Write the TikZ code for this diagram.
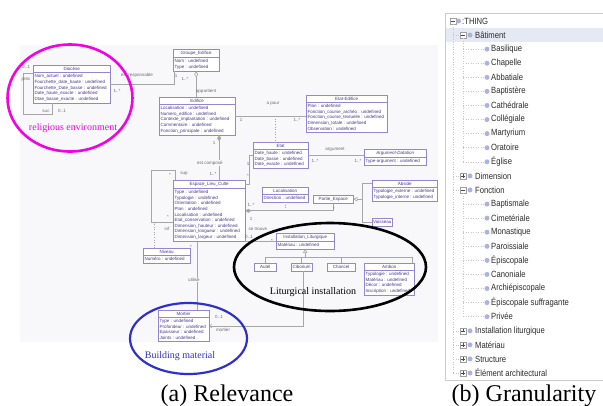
\documentclass[tikz,border=0pt]{standalone}
\usepackage{fontspec}
\setmainfont{Liberation Serif}
\setsansfont{Liberation Sans}
\newfontfamily\treefont[FakeStretch=0.85]{Liberation Sans}
\usetikzlibrary{shapes.multipart,arrows.meta,calc}

\definecolor{umlline}{HTML}{9288CF}
\definecolor{umltext}{HTML}{43378A}
\definecolor{linegray}{HTML}{A6A6A6}
\definecolor{labtext}{HTML}{6A6A6A}
\definecolor{panel}{HTML}{F8F8FB}
\definecolor{treedot}{HTML}{A9B3DD}
\definecolor{treesel}{HTML}{E4E9F3}
\definecolor{treetext}{HTML}{2B2B2B}
\definecolor{envmag}{HTML}{F200E6}
\definecolor{matblue}{HTML}{2F2FCC}

\begin{document}
\begin{tikzpicture}[x=1pt,y=-1pt,
  cls/.style={rectangle split,rectangle split parts=2,draw=umlline,fill=white,
    text=umltext,font=\sffamily\fontsize{4.5}{5.6}\selectfont,align=left,
    rectangle split part align={center,left},inner xsep=1.5pt,inner ysep=1.8pt,
    anchor=north west,minimum width=#1},
  box/.style={draw=umlline,fill=white,text=umltext,font=\sffamily\fontsize{4.5}{5.6}\selectfont,
    inner sep=1pt,anchor=north west,minimum width=#1,minimum height=8pt},
  link/.style={draw=linegray,line width=0.6pt},
  aggr/.style={{Diamond[open,length=6pt,width=4pt]}-},
  comp/.style={{Diamond[length=6pt,width=4pt]}-},
  inh/.style={-{Triangle[open,length=4pt,width=4.5pt]}},
  nav/.style={-{Straight Barb[length=2pt,width=4pt]}},
  lbl/.style={font=\sffamily\fontsize{4.5}{5}\selectfont,text=labtext,inner sep=0.5pt},
  note/.style={font=\rmfamily\fontsize{10}{12}\selectfont,inner sep=0},
  tlabel/.style={anchor=west,inner sep=0,font=\treefont\fontsize{9}{10}\selectfont,text=treetext},
  tdot/.style={circle,fill=treedot,inner sep=0,minimum size=5pt},
  tguide/.style={draw=gray!45,dotted,line width=0.5pt},
  tminus/.style={draw=gray!75,fill=white,minimum size=6pt,inner sep=0,
    path picture={\draw[black!70] ([xshift=1.3pt]path picture bounding box.west) -- ([xshift=-1.3pt]path picture bounding box.east);}},
  tplus/.style={draw=gray!75,fill=white,minimum size=6pt,inner sep=0,
    path picture={\draw[black!70] ([xshift=1.3pt]path picture bounding box.west) -- ([xshift=-1.3pt]path picture bounding box.east)
      ([yshift=-1.3pt]path picture bounding box.north) -- ([yshift=1.3pt]path picture bounding box.south);}},
  caption/.style={anchor=base,font=\rmfamily\fontsize{24}{26}\selectfont,inner sep=0}]
  \useasboundingbox (0,0) rectangle (603,405);
  \fill[panel] (20,45) rectangle (438,342);

  \node[cls=77pt] (diocese) at (33,65) {Diocèse \nodepart{second} Nom\_actuel : undefined\\Fourchette\_date\_haute : undefined\\Fourchette\_Date\_basse : undefined\\Date\_haute\_exacte : undefined\\Dtae\_basse\_exacte : undefined};
  \node[cls=46pt] (groupe) at (173,49) {Groupe\_Edifice \nodepart{second} Nom : undefined\\Type : undefined};
  \node[cls=76pt] (edifice) at (159,97) {Edifice \nodepart{second} Localisation : undefined\\Numero\_edifice : undefined\\Contexte\_implantation : undefined\\Commentaire : undefined\\Fonction\_principale : undefined};
  \node[cls=81pt] (etatedif) at (306,95) {Etat-Edifice \nodepart{second} Plan : undefined\\Fonction\_course\_archéo : undefined\\Fonction\_course\_textuelle : undefined\\Dimension\_totale : undefined\\Observation : undefined};
  \node[cls=55pt] (etat) at (253,142) {Etat \nodepart{second} Date\_haute : undefined\\Date\_basse : undefined\\Date\_exacte : undefined};
  \node[cls=62pt] (argdat) at (364,149) {\textit{Argument-Datation} \nodepart{second} Type-argument : undefined};
  \node[cls=72pt] (espace) at (173,180) {Espace\_Lieu\_Culte \nodepart{second} Type : undefined\\Typologie : undefined\\Orientation : undefined\\Plan : undefined\\Localisation : undefined\\Etat\_conservation : undefined\\Dimension\_hauteur : undefined\\Dimension\_longueur : undefined\\Dimension\_largeur : undefined};
  \node[cls=47pt] (niveau) at (143,248) {Niveau \nodepart{second} Numéro : undefined};
  \node[cls=46pt] (loc) at (262,187) {Localisation \nodepart{second} Direction : undefined};
  \node[box=40pt] (partie) at (313,195) {Partie\_Espace};
  \node[cls=65pt] (abside) at (372,180) {Abside \nodepart{second} Typologie\_externe : undefined\\Typologie\_interne : undefined};
  \node[box=20pt] (vaisseau) at (372,218) {Vaisseau};
  \node[cls=58pt] (inst) at (276,233) {Installation\_Liturgique \nodepart{second} Matériau : undefined};
  \node[box=22pt] (autel) at (254,263) {Autel};
  \node[box=21pt] (cib) at (291,263) {Ciborium};
  \node[box=28pt] (chancel) at (327,263) {Chancel};
  \node[cls=50pt] (ambon) at (364,263) {Ambon \nodepart{second} Typologie : undefined\\Matériau : undefined\\Décor : undefined\\Inscription : undefined};
  \node[cls=51pt] (mortier) at (158,310) {Mortier \nodepart{second} Type : undefined\\Profondeur : undefined\\Epaisseur : undefined\\Joints : undefined};

  \draw[link] ([yshift=-8pt]diocese.north west) -- ++(-10,0) -- ++(0,41) -| ([xshift=19pt]diocese.south west);
  \draw[link] (diocese.east) -| ([xshift=1pt]groupe.south west);
  \draw[link,aggr] (groupe.south) -- (groupe.south |- edifice.north);
  \draw[link] (edifice.east) -- (edifice.east -| etatedif.west);
  \path (edifice.east) -- (edifice.east -| etatedif.west) coordinate[pos=0.57] (apour);
  \draw[link,dotted] (apour) -- (apour |- etat.north);
  \draw[link] (etat.east) -- (etat.east -| argdat.west);
  \coordinate (cp) at ([xshift=22pt]edifice.south);
  \draw[link,comp] (cp) -- (cp |- espace.north);
  \draw[link] (etat.west) -- ++(-4,0) |- ([yshift=-4pt]espace.north east);
  \draw[link,comp] (espace.east) -| (partie.south);
  \draw[link,dotted] (loc.south) -- (loc.south |- espace.east);
  \coordinate (pj) at ([xshift=9pt]partie.east);
  \draw[link,inh] (pj) -- (partie.east);
  \draw[link] ([yshift=-3pt]abside.north west) -| (pj) |- (vaisseau.west);
  \draw[link] (espace.east |- inst.west) -- (inst.west);
  \coordinate (ib) at ([yshift=-8pt]inst.south);
  \coordinate (amb) at ([xshift=-2pt]ambon.north east);
  \draw[link,inh] (ib) -- (inst.south);
  \draw[link] (autel.north) |- (amb |- ib) -- (amb);
  \draw[link] (cib.north) -- (cib.north |- ib);
  \draw[link] (chancel.north) -- (chancel.north |- ib);
  \draw[link,nav] ([xshift=2pt]cib.south) |- (mortier.east);
  \coordinate (ut) at ([xshift=-12pt]espace.south);
  \draw[link] (ut) -- (ut |- mortier.north);
  \coordinate (lb) at ([yshift=-12pt]espace.west);
  \draw[link] ([xshift=2pt]espace.north west) -- ++(0,-10) -- ++(-24,0) |- (lb);
  \coordinate (nv) at ([xshift=-12pt]niveau.north);
  \draw[link,dotted] (nv) -- (nv |- lb);
  \fill[linegray] (nv |- lb) circle (0.9pt);

  \foreach \x/\y/\t [count=\i] in {26/67/0..1, 26/80/prec, 46/111/suc, 62/111/0..1,
      137/75/est responsable, 117/91/1..*, 176/76/1, 185/79/1..*, 206/91/appartient,
      273/104/a pour, 241/120/1, 297/120/1..*, 335/150/argument, 315/161/1..*, 358/161/1..*,
      214/143/1, 213/174/1..*, 248/164/1, 248/176/*, 251/205/1..*, 251/219/1, 334/209/*,
      258/229/se trouve, 249/237/0..1, 272/241/*, 170/175/*, 184/174/sup, 168/217/*,
      167/229/inf, 191/247/*, 219/317/0..1, 223/330/mortier}
    \node[lbl] (lab\i) at (\x,\y) {\t};
  \node[lbl,fill=panel] (labcomp) at (210,163) {est composé};
  \node[lbl,fill=panel] (labutil) at (194,280) {utilise};

  \draw[envmag,line width=2.6pt] (70,98) ellipse [x radius=62.5pt, y radius=53.5pt];
  \draw[black,line width=2.6pt] (330,267) ellipse [x radius=96pt, y radius=44pt];
  \draw[matblue,line width=2.2pt] (188.5,338.5) ellipse [x radius=58.5pt, y radius=35.5pt];
  \node[note,text=envmag] (relenv) at (73,128) {religious environment};
  \node[note] (liturg) at (313,292) {Liturgical installation};
  \node[note,text=matblue] (buildmat) at (180,356) {Building material};

  \draw[gray!40,line width=0.6pt] (603,13) -- (445,13) -- (445,380) -- (603,380);
  \fill[treesel] (446,28) rectangle (603,42);
  \node[tminus] (xthing) at (453,21) {};
  \node[tdot] (dthing) at (458.5,21) {};
  \node[tlabel] (thing) at (462,21) {:THING};
  \foreach \r in {1,12}
    \node[tminus] (x\r) at (463,{21+14.08*\r}) {};
  \foreach \r in {11,22,23,24,25}
    \node[tplus] (x\r) at (463,{21+14.08*\r}) {};
  \foreach \t/\r in {Bâtiment/1, Dimension/11, Fonction/12, Installation liturgique/22,
      Matériau/23, Structure/24, Élément architectural/25} {
    \node[tdot] (d\r) at (470,{21+14.08*\r}) {};
    \node[tlabel] (n\r) at (475,{21+14.08*\r}) {\t};
    \draw[tguide] (xthing |- x\r) -- (x\r.west);
  }
  \foreach \t [count=\r from 2] in {Basilique, Chapelle, Abbatiale, Baptistère, Cathédrale,
      Collégiale, Martyrium, Oratoire, Église} {
    \node[tdot] (dl\r) at (487,{21+14.08*\r}) {};
    \node[tlabel] (nl\r) at (491,{21+14.08*\r}) {\t};
    \draw[tguide] (x1 |- dl\r) -- (dl\r.west);
  }
  \foreach \t [count=\r from 13] in {Baptismale, Cimetériale, Monastique, Paroissiale, Épiscopale,
      Canoniale, Archiépiscopale, Épiscopale suffragante, Privée} {
    \node[tdot] (dl\r) at (487,{21+14.08*\r}) {};
    \node[tlabel] (nl\r) at (491,{21+14.08*\r}) {\t};
    \draw[tguide] (x12 |- dl\r) -- (dl\r.west);
  }
  \draw[tguide] (xthing.south) -- (xthing |- x25);
  \draw[tguide] (x1.south) -- (x1 |- dl10);
  \draw[tguide] (x12.south) -- (x12 |- dl21);

  \node[caption] (capa) at (227,401) {(a) Relevance};
  \node[caption] (capb) at (524,401) {(b) Granularity};
\end{tikzpicture}
\end{document}
